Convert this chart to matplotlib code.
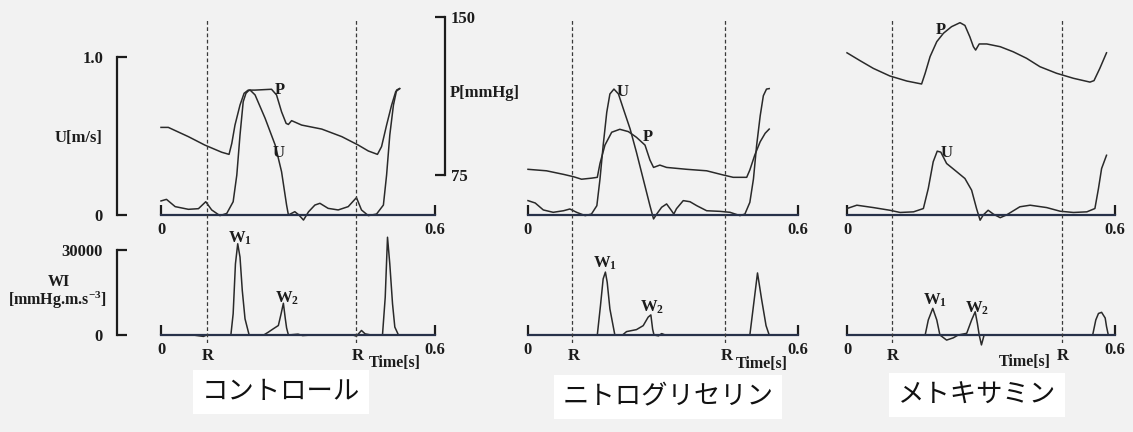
import matplotlib
matplotlib.use("Agg")
import matplotlib.pyplot as plt

plt.rcParams["font.family"] = ["Liberation Serif", "DejaVu Serif"]
plt.rcParams["font.weight"] = "bold"
plt.rcParams["mathtext.fontset"] = "custom"
plt.rcParams["mathtext.rm"] = "Liberation Serif:bold"
plt.rcParams["mathtext.it"] = "Liberation Serif:bold"
plt.rcParams["mathtext.bf"] = "Liberation Serif:bold"

# ---------------- data ----------------
TIME_TICKS = [0, 0.6]
TIME_TICK_LABELS = ["0", "0.6"]
U_TICKS = [0, 1.0]
U_TICK_LABELS = ["0", "1.0"]
P_TICKS = [75, 150]
P_TICK_LABELS = ["75", "150"]
WI_TICKS = [0, 30000]
WI_TICK_LABELS = ["0", "30000"]

PANEL_TITLES = ["コントロール", "ニトログリセリン", "メトキサミン"]

# R-wave times [s]
CTRL_R = [0.100, 0.427]
NTG_R = [0.098, 0.438]
MTX_R = [0.100, 0.481]

# pressure P [mmHg] as (time, value)
CTRL_P = [(0.0, 97.6), (0.016, 97.6), (0.060, 93.2), (0.096, 89.2), (0.133, 85.8),
          (0.149, 84.8), (0.155, 90.0), (0.162, 98.7), (0.173, 108.2), (0.182, 113.8),
          (0.191, 115.3), (0.206, 115.3), (0.242, 115.7), (0.253, 113.0), (0.264, 105.0),
          (0.274, 99.5), (0.279, 99.0), (0.286, 100.8), (0.308, 98.7), (0.352, 96.8),
          (0.396, 93.2), (0.432, 89.2), (0.454, 86.4), (0.474, 84.8), (0.483, 88.5),
          (0.494, 98.7), (0.505, 108.2), (0.514, 114.6), (0.523, 116.0)]
NTG_P = [(0.0, 77.7), (0.041, 77.0), (0.079, 75.3), (0.101, 74.2), (0.119, 73.0),
         (0.141, 73.5), (0.154, 73.9), (0.160, 80.5), (0.171, 89.2), (0.186, 95.3),
         (0.204, 96.7), (0.223, 95.6), (0.241, 92.9), (0.260, 89.2), (0.271, 82.1),
         (0.279, 78.6), (0.293, 79.7), (0.308, 78.6), (0.353, 77.7), (0.397, 77.0),
         (0.434, 75.0), (0.456, 73.9), (0.486, 73.9), (0.493, 77.4), (0.504, 84.5),
         (0.516, 90.8), (0.527, 94.8), (0.536, 96.8)]
MTX_P = [(0.0, 133.0), (0.029, 129.3), (0.059, 125.6), (0.096, 122.0), (0.134, 119.6),
         (0.167, 118.2), (0.175, 123.3), (0.186, 131.2), (0.201, 138.3), (0.216, 142.3),
         (0.234, 145.4), (0.253, 147.3), (0.264, 146.0), (0.275, 140.6), (0.283, 135.9),
         (0.288, 134.3), (0.296, 137.2), (0.313, 137.2), (0.343, 135.9), (0.372, 133.5),
         (0.402, 130.4), (0.432, 126.4), (0.469, 123.3), (0.507, 120.9), (0.544, 119.1),
         (0.553, 119.8), (0.566, 125.6), (0.581, 133.0)]

# flow velocity U [m/s] as (time, value)
CTRL_U = [(0.0, 0.089), (0.012, 0.099), (0.031, 0.053), (0.060, 0.036), (0.082, 0.040),
          (0.098, 0.084), (0.111, 0.032), (0.129, -0.004), (0.144, 0.010), (0.158, 0.084),
          (0.166, 0.253), (0.173, 0.506), (0.180, 0.717), (0.186, 0.770), (0.191, 0.785),
          (0.195, 0.791), (0.206, 0.760), (0.228, 0.612), (0.250, 0.443), (0.264, 0.274),
          (0.275, 0.063), (0.279, 0.0), (0.293, 0.021), (0.302, 0.0), (0.312, -0.032),
          (0.323, 0.020), (0.337, 0.063), (0.348, 0.074), (0.366, 0.042), (0.388, 0.032),
          (0.410, 0.053), (0.428, 0.110), (0.439, 0.032), (0.454, -0.004), (0.472, 0.006),
          (0.487, 0.063), (0.494, 0.253), (0.501, 0.506), (0.509, 0.696), (0.516, 0.791),
          (0.522, 0.800)]
NTG_U = [(0.0, 0.091), (0.016, 0.076), (0.034, 0.032), (0.056, 0.017), (0.079, 0.027),
         (0.093, 0.038), (0.108, 0.017), (0.127, -0.004), (0.141, 0.006), (0.153, 0.059),
         (0.160, 0.228), (0.167, 0.439), (0.175, 0.650), (0.182, 0.766), (0.191, 0.797),
         (0.201, 0.766), (0.212, 0.671), (0.227, 0.544), (0.241, 0.397), (0.256, 0.228),
         (0.271, 0.059), (0.279, -0.025), (0.286, 0.006), (0.297, 0.049), (0.308, 0.070),
         (0.319, 0.027), (0.324, 0.006), (0.330, 0.040), (0.345, 0.091), (0.360, 0.084),
         (0.375, 0.059), (0.397, 0.027), (0.427, 0.023), (0.449, 0.017), (0.471, -0.004),
         (0.482, 0.006), (0.493, 0.080), (0.501, 0.228), (0.508, 0.439), (0.516, 0.628),
         (0.523, 0.755), (0.530, 0.797), (0.536, 0.800)]
MTX_U = [(0.0, 0.041), (0.022, 0.062), (0.059, 0.047), (0.096, 0.030), (0.119, 0.016),
         (0.149, 0.020), (0.171, 0.041), (0.182, 0.168), (0.193, 0.337), (0.202, 0.404),
         (0.210, 0.398), (0.223, 0.326), (0.246, 0.273), (0.264, 0.231), (0.279, 0.157),
         (0.290, 0.041), (0.298, -0.033), (0.305, 0.0), (0.316, 0.030), (0.328, 0.005),
         (0.343, -0.017), (0.357, 0.0), (0.387, 0.052), (0.410, 0.062), (0.447, 0.047),
         (0.477, 0.024), (0.507, 0.016), (0.537, 0.020), (0.555, 0.041), (0.563, 0.168),
         (0.570, 0.294), (0.581, 0.378)]

# wave intensity WI [mmHg.m.s^-3] as (time, value)
CTRL_WI = [(0.0, 0), (0.070, 0), (0.093, -500), (0.100, 0), (0.153, 0), (0.158, 7500),
           (0.163, 25100), (0.168, 32200), (0.173, 27500), (0.178, 15700), (0.184, 5700),
           (0.193, 0), (0.225, 0), (0.235, 1000), (0.246, 2200), (0.257, 3350),
           (0.263, 7500), (0.268, 11200), (0.272, 6000), (0.275, 2500), (0.279, 0),
           (0.300, 300), (0.310, -200), (0.330, 0), (0.420, 0), (0.428, -400),
           (0.439, 1600), (0.447, 400), (0.460, 0), (0.485, 0), (0.491, 13300),
           (0.496, 34500), (0.501, 25100), (0.507, 11000), (0.512, 2800), (0.520, 0),
           (0.600, 0)]
NTG_WI = [(0.0, 0), (0.154, 0), (0.161, 10300), (0.167, 19800), (0.172, 22200),
          (0.176, 18600), (0.182, 9200), (0.193, 0), (0.210, 0), (0.219, 1200),
          (0.241, 1900), (0.256, 3300), (0.267, 6300), (0.273, 7100), (0.277, 2000),
          (0.280, 0), (0.290, -300), (0.297, 500), (0.305, 0), (0.493, 0),
          (0.501, 10300), (0.510, 21900), (0.519, 12700), (0.529, 3300), (0.536, 0),
          (0.600, 0)]
MTX_WI = [(0.0, 0), (0.175, 0), (0.182, 5300), (0.192, 9400), (0.201, 5300),
          (0.208, 0), (0.223, -1800), (0.238, -1000), (0.249, 0), (0.268, 600),
          (0.279, 5300), (0.287, 8200), (0.292, 4000), (0.296, 0), (0.301, -3500),
          (0.307, 0), (0.550, 0), (0.557, 5300), (0.563, 7600), (0.570, 8000),
          (0.578, 6000), (0.581, 3000), (0.585, 0), (0.600, 0)]

# ---------------- layout ----------------
FIG_W, FIG_H, DPI = 1133, 432, 100
BG = "#f2f2f2"
INK = "#1c1c1c"
TRACE = "#2a2a2a"
PX = 0.72  # points per pixel at 100 dpi

U_LIM = (-0.0633, 1.2975)
P_LIM = (51.27, 153.32)
WI_LIM = (-3530, 35290)

PANEL_X0 = [161, 528, 847]
PANEL_W = [274, 270, 268]

fig = plt.figure(figsize=(FIG_W / DPI, FIG_H / DPI), dpi=DPI, facecolor=BG)


def box(left, top, width, height):
    return [left / FIG_W, 1 - (top + height) / FIG_H, width / FIG_W, height / FIG_H]


def at(px, py):
    return px / FIG_W, 1 - py / FIG_H


def unzip(pairs):
    return [p[0] for p in pairs], [p[1] for p in pairs]


def style_time_axis(ax, pad):
    for side in ("top", "right", "left"):
        ax.spines[side].set_visible(False)
    sp = ax.spines["bottom"]
    sp.set_position(("data", 0))
    sp.set_bounds(0, 0.6)
    sp.set_color("#28324a")
    sp.set_linewidth(1.6)
    ax.set_xticks(TIME_TICKS)
    ax.set_xticklabels(TIME_TICK_LABELS)
    ax.tick_params(axis="x", direction="in", length=7, width=1.6, color=INK,
                   labelsize=12, pad=pad, labelcolor=INK)
    ax.set_yticks([])


def style_bracket(ax, side, offset_px, lo, hi, ticks, labels, pad):
    sp = ax.spines[side]
    sp.set_visible(True)
    sp.set_position(("outward", offset_px * PX))
    sp.set_bounds(lo, hi)
    sp.set_color(INK)
    sp.set_linewidth(1.6)
    ax.set_yticks(ticks)
    ax.set_yticklabels(labels)
    if side == "right":
        ax.yaxis.tick_right()
    ax.tick_params(axis="y", direction="in", length=7, width=1.6, color=INK,
                   labelsize=12, pad=pad, labelcolor=INK)


panels = [
    dict(p=CTRL_P, u=CTRL_U, wi=CTRL_WI, r=CTRL_R, title=PANEL_TITLES[0],
         title_xy=(281, 392), time_xy=(395, 363),
         p_lab=(280, 90), u_lab=(279, 153), w1=(240, 238), w2=(287, 298)),
    dict(p=NTG_P, u=NTG_U, wi=NTG_WI, r=NTG_R, title=PANEL_TITLES[1],
         title_xy=(668, 397), time_xy=(762, 364),
         p_lab=(648, 137), u_lab=(623, 92), w1=(605, 263), w2=(652, 307)),
    dict(p=MTX_P, u=MTX_U, wi=MTX_WI, r=MTX_R, title=PANEL_TITLES[2],
         title_xy=(977, 395), time_xy=(1025, 362),
         p_lab=(941, 30), u_lab=(947, 153), w1=(935, 300), w2=(977, 308)),
]

for i, pan in enumerate(panels):
    x0, w = PANEL_X0[i], PANEL_W[i]

    # upper: velocity and pressure
    ax_u = fig.add_axes(box(x0, 10, w, 215))
    ax_u.set_facecolor("none")
    ax_u.set_xlim(0, 0.6)
    ax_u.set_ylim(*U_LIM)
    style_time_axis(ax_u, pad=5)
    t, v = unzip(pan["u"])
    ax_u.plot(t, v, color=TRACE, lw=1.1, clip_on=False)

    ax_p = ax_u.twinx()
    ax_p.set_facecolor("none")
    ax_p.set_ylim(*P_LIM)
    for s in ax_p.spines.values():
        s.set_visible(False)
    ax_p.set_yticks([])
    t, v = unzip(pan["p"])
    ax_p.plot(t, v, color=TRACE, lw=1.1, clip_on=False)

    # lower: wave intensity
    ax_w = fig.add_axes(box(x0, 235, w, 110))
    ax_w.set_facecolor("none")
    ax_w.set_xlim(0, 0.6)
    ax_w.set_ylim(*WI_LIM)
    style_time_axis(ax_w, pad=5)
    t, v = unzip(pan["wi"])
    ax_w.plot(t, v, color=TRACE, lw=1.1, clip_on=False)

    if i == 0:
        style_bracket(ax_u, "left", 44, 0, 1.0, U_TICKS, U_TICK_LABELS, pad=10)
        style_bracket(ax_p, "right", 10, 75, 150, P_TICKS, P_TICK_LABELS, pad=4)
        style_bracket(ax_w, "left", 44, 0, 30000, WI_TICKS, WI_TICK_LABELS, pad=10)

    # R-wave markers spanning both plots
    ax_d = fig.add_axes(box(x0, 20, w, 323))
    ax_d.set_xlim(0, 0.6)
    ax_d.set_ylim(0, 1)
    ax_d.axis("off")
    ax_d.vlines(pan["r"], 0, 1, colors="#3a3a3a", linestyles=(0, (3, 2)), lw=0.9)
    for r in pan["r"]:
        ax_w.annotate("R", xy=(r, 0), xytext=(1, -15), textcoords="offset points",
                      ha="center", va="center", fontsize=12, color=INK)

    # trace labels
    fig.text(*at(*pan["p_lab"]), "P", ha="center", va="center", fontsize=12, color=INK)
    fig.text(*at(*pan["u_lab"]), "U", ha="center", va="center", fontsize=12, color=INK)
    fig.text(*at(*pan["w1"]), r"W$_1$", ha="center", va="center", fontsize=12, color=INK)
    fig.text(*at(*pan["w2"]), r"W$_2$", ha="center", va="center", fontsize=12, color=INK)
    fig.text(*at(*pan["time_xy"]), "Time[s]", ha="center", va="center",
             fontsize=11.5, color=INK)

    fig.text(*at(*pan["title_xy"]), pan["title"], ha="center", va="center",
             fontsize=19, fontweight="normal", color="#111111",
             family=["Noto Sans CJK JP", "DejaVu Sans"],
             bbox=dict(facecolor="white", edgecolor="none", pad=6))

# axis titles on the first panel
fig.text(*at(79, 138), "U[m/s]", ha="center", va="center", fontsize=12, color=INK)
fig.text(*at(450, 93), "P[mmHg]", ha="left", va="center", fontsize=12, color=INK)
fig.text(*at(59, 282), "WI", ha="center", va="center", fontsize=11.5, color=INK)
fig.text(*at(57, 300), r"[mmHg.m.s$^{-3}$]", ha="center", va="center",
         fontsize=11.5, color=INK)

fig.savefig("out.png", dpi=DPI, facecolor=BG)
